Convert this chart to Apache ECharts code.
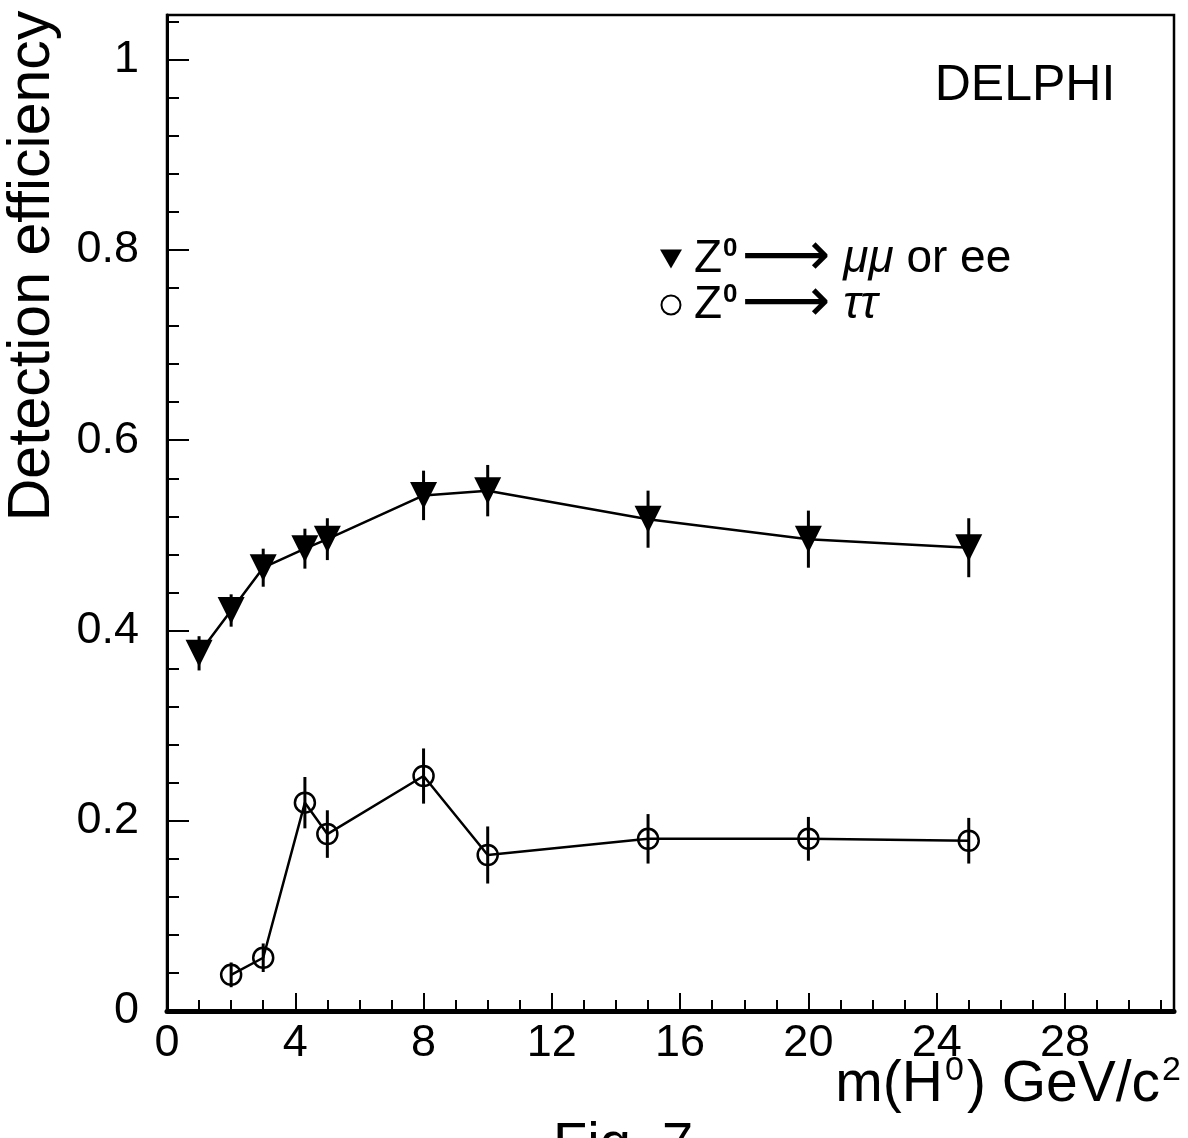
<!DOCTYPE html>
<html>
<head>
<meta charset="utf-8">
<script src="https://cdn.jsdelivr.net/npm/echarts@6/dist/echarts.min.js"></script>
<style>
  html, body { margin: 0; padding: 0; background: #fff; }
  #chart { width: 1188px; height: 1138px; }
</style>
</head>
<body>
<div id="chart"></div>
<script>
// masses (GeV/c^2) and efficiencies
const muMass = [1, 2, 3, 4.3, 5, 8, 10, 15, 20, 25]
const muEff = [0.376, 0.421, 0.466, 0.486, 0.496, 0.542, 0.547, 0.517, 0.496, 0.487]
const muErr = [0.018, 0.017, 0.020, 0.021, 0.022, 0.026, 0.027, 0.030, 0.030, 0.031]

const tauMass = [2, 3, 4.3, 5, 8, 10, 15, 20, 25]
const tauEff = [0.038, 0.056, 0.219, 0.186, 0.247, 0.164, 0.181, 0.181, 0.179]
const tauErr = [0.013, 0.015, 0.027, 0.025, 0.029, 0.030, 0.026, 0.023, 0.024]

const xLabels = [0, 4, 8, 12, 16, 20, 24, 28]
const yLabels = [0, 0.2, 0.4, 0.6, 0.8, 1]

const font = '"Liberation Sans", Arial, Helvetica, sans-serif'
const X_MAX = 31.4
const Y_MAX = 1.047

const chart = echarts.init(document.getElementById('chart'))

const errBar = (params, api) => {
  const lo = api.coord([api.value(0), api.value(1)])
  const hi = api.coord([api.value(0), api.value(2)])
  return {
    type: 'line',
    shape: { x1: lo[0], y1: lo[1], x2: hi[0], y2: hi[1] },
    style: { stroke: '#000', lineWidth: 3 }
  }
}

const legendRich = {
  n: { fontFamily: font, fontSize: 46, lineHeight: 46 },
  s: { fontFamily: font, fontSize: 26, fontWeight: 'bold', lineHeight: 20, verticalAlign: 'top', padding: [0, 4, 0, 1] },
  a: { fontFamily: 'DejaVu Sans', fontSize: 62, lineHeight: 46 },
  it: { fontFamily: font, fontSize: 46, fontStyle: 'italic', lineHeight: 46 }
}

const option = {
  animation: false,
  backgroundColor: '#fff',
  grid: {
    left: 167, right: 14, top: 15, bottom: 127,
    show: true, borderColor: '#000', borderWidth: 2.5
  },
  legend: {
    data: [
      { name: 'mu', icon: 'path://M0,0L20,0L10,17.3Z', itemStyle: { color: '#000', borderWidth: 0 } },
      { name: 'tau', icon: 'circle', itemStyle: { color: 'rgba(0,0,0,0)', borderColor: '#000', borderWidth: 2 } }
    ],
    orient: 'vertical',
    left: 655,
    top: 223,
    itemGap: -16,
    itemWidth: 36,
    itemHeight: 19,
    textStyle: { fontFamily: font, fontSize: 46, color: '#000', lineHeight: 46, rich: legendRich },
    formatter: name => name === 'mu'
      ? '{n|Z}{s|0}{a|⟶}{it| μμ}{n| or ee}'
      : '{n|Z}{s|0}{a|⟶}{it| ττ}'
  },
  xAxis: [
    {
      type: 'value', min: 0, max: X_MAX, interval: 4,
      position: 'bottom',
      axisLine: { lineStyle: { color: '#000', width: 5 } },
      axisTick: { inside: true, length: 18, lineStyle: { color: '#000', width: 2 } },
      axisLabel: {
        fontFamily: font, fontSize: 45, color: '#000', margin: 10, showMaxLabel: false,
        formatter: v => xLabels.includes(v) ? String(v) : ''
      },
      splitLine: { show: false }
    },
    {
      type: 'value', min: 0, max: X_MAX, interval: 1,
      position: 'bottom',
      axisLine: { show: false },
      axisTick: { inside: true, length: 11, lineStyle: { color: '#000', width: 2 } },
      axisLabel: { show: false },
      splitLine: { show: false }
    }
  ],
  yAxis: [
    {
      type: 'value', min: 0, max: Y_MAX, interval: 0.2,
      position: 'left',
      axisLine: { lineStyle: { color: '#000', width: 3 } },
      axisTick: { inside: true, length: 22, lineStyle: { color: '#000', width: 2 } },
      axisLabel: {
        fontFamily: font, fontSize: 45, color: '#000', margin: 28, showMaxLabel: false,
        formatter: v => yLabels.includes(v) ? String(v) : ''
      },
      splitLine: { show: false }
    },
    {
      type: 'value', min: 0, max: Y_MAX, interval: 0.04,
      position: 'left',
      axisLine: { show: false },
      axisTick: { inside: true, length: 12, lineStyle: { color: '#000', width: 2 } },
      axisLabel: { show: false },
      splitLine: { show: false }
    }
  ],
  graphic: [
    {
      type: 'text', x: 33, y: 266, rotation: Math.PI / 2,
      style: {
        text: 'Detection efficiency', x: 0, y: 0,
        textAlign: 'center', textVerticalAlign: 'middle',
        fontFamily: font, fontSize: 59, fill: '#000'
      }
    },
    {
      type: 'text', x: 1184, y: 1116,
      style: {
        text: '{n|m(H}{s|0}{n|) GeV/c}{s|2}',
        textAlign: 'right', textVerticalAlign: 'bottom',
        fill: '#000',
        rich: {
          n: { fontFamily: font, fontSize: 57, lineHeight: 62 },
          s: { fontFamily: font, fontSize: 34, lineHeight: 62, verticalAlign: 'top', padding: [0, 3, 26, 2] }
        }
      }
    },
    {
      type: 'text', x: 1025, y: 86,
      style: {
        text: 'DELPHI', textAlign: 'center', textVerticalAlign: 'middle',
        fontFamily: font, fontSize: 50, fill: '#000'
      }
    },
    {
      type: 'text', x: 553, y: 1118,
      style: {
        text: 'Fig. 7', textAlign: 'left', textVerticalAlign: 'top',
        fontFamily: font, fontSize: 56, fill: '#000'
      }
    }
  ],
  series: [
    {
      type: 'custom', name: 'muErr', xAxisIndex: 0, yAxisIndex: 0, z: 2,
      renderItem: errBar,
      data: muMass.map((m, i) => [m, muEff[i] - muErr[i], muEff[i] + muErr[i]])
    },
    {
      type: 'custom', name: 'tauErr', xAxisIndex: 0, yAxisIndex: 0, z: 2,
      renderItem: errBar,
      data: tauMass.map((m, i) => [m, tauEff[i] - tauErr[i], tauEff[i] + tauErr[i]])
    },
    {
      type: 'line', name: 'mu', xAxisIndex: 0, yAxisIndex: 0, z: 3,
      data: muMass.map((m, i) => [m, muEff[i]]),
      symbol: 'triangle', symbolRotate: 180, symbolSize: 27,
      itemStyle: { color: '#000' },
      lineStyle: { color: '#000', width: 2.5 }
    },
    {
      type: 'line', name: 'tau', xAxisIndex: 0, yAxisIndex: 0, z: 3,
      data: tauMass.map((m, i) => [m, tauEff[i]]),
      symbol: 'circle', symbolSize: 20,
      itemStyle: { color: 'rgba(0,0,0,0)', borderColor: '#000', borderWidth: 2.5 },
      lineStyle: { color: '#000', width: 2.5 }
    }
  ]
}

chart.setOption(option)
</script>
</body>
</html>
